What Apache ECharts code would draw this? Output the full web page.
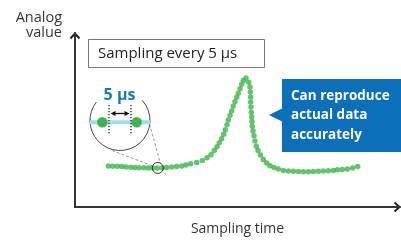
<!DOCTYPE html>
<html>
<head>
<meta charset="utf-8">
<script src="https://cdn.jsdelivr.net/npm/echarts@6/dist/echarts.min.js"></script>
<style>
  html, body { margin: 0; padding: 0; background: #fff; }
  #chart { width: 401px; height: 241px; }
</style>
</head>
<body>
<div id="chart"></div>
<script>
// sample points (time, analog value) in axis units
var sampleTimes = [33.3, 37.7, 42.3, 46.7, 51, 55.7, 60, 64.3, 69, 73.3, 77.7, 82.3, 87.3, 91.7, 96.7, 101.7, 106.7, 111, 115.7,
  121.7, 127.3, 132, 136, 139.3, 142, 144.3, 146.7, 148.7, 150.3, 152, 153.3, 155, 156.7, 158.2, 160, 161.7, 163.3, 165, 166.7, 168.3,
  171, 173.7, 175, 175.3, 175.7, 175.7, 176, 176.3, 176.7, 177, 177.3, 178, 179, 180, 181.3, 183, 185.5, 188.3, 191.7, 195, 199,
  203.3, 208.3, 213.3, 218.3, 223.3, 228.3, 233.3, 238.3, 243.3, 248.3, 253.3, 258.3, 262.3, 267.3, 272.3, 277.7, 282.7];
var sampleValues = [43.3, 43.2, 43, 42.7, 42.4, 42.1, 41.8, 41.6, 41.4, 41.3, 41.3, 41.3, 41.5, 41.8, 42.2, 42.7, 43.4, 44.4, 45.7,
  47, 49.3, 52, 55.3, 59.7, 63.7, 68, 72.3, 77, 81.7, 87, 92, 97, 101.5, 106.5, 111.3, 116, 120.3, 125, 129.7, 133.7,
  136.3, 132, 127, 121.7, 116.3, 111, 105.7, 100.3, 95.3, 90.3, 85.3, 80.3, 75.3, 69.7, 64.3, 59.7, 55, 50.3, 46.5, 43.5, 41.7,
  40.2, 38.7, 38, 37.7, 37.6, 37.3, 37.3, 37.6, 37.7, 38, 38.3, 38.7, 39.3, 39.7, 40.3, 41.3, 42.7];
var zoomIndex = 11; // the sample shown in the magnifier
var xMax = 325, yMax = 184;

var FONT = '"Open Sans", "Noto Sans", sans-serif';
var GREEN = '#3cb44a';
var BLUE = '#0b6fba';

var points = sampleTimes.map(function(t, i) { return [t, sampleValues[i]]; });

var chart = echarts.init(document.getElementById('chart'));

chart.setOption({
  animation: false,
  grid: { left: 75, right: 1, top: 33, bottom: 24 },
  xAxis: {
    type: 'value', min: 0, max: xMax,
    name: 'Sampling time', nameLocation: 'middle', nameGap: 15,
    nameTextStyle: { fontSize: 14, color: '#333', fontFamily: FONT },
    axisLine: { show: true, lineStyle: { color: '#333', width: 2 } },
    axisTick: { show: false }, axisLabel: { show: false }, splitLine: { show: false }
  },
  yAxis: {
    type: 'value', min: 0, max: yMax,
    axisLine: { show: true, lineStyle: { color: '#333', width: 2 } },
    axisTick: { show: false }, axisLabel: { show: false }, splitLine: { show: false }
  },
  series: [{
    type: 'scatter',
    data: points,
    symbol: 'circle',
    symbolSize: 5.5,
    itemStyle: { color: GREEN },
    z: 5
  }]
});

var p = chart.convertToPixel({ gridIndex: 0 }, points[zoomIndex]);
var yTip = chart.convertToPixel({ gridIndex: 0 }, [0, yMax]);
var xTip = chart.convertToPixel({ gridIndex: 0 }, [xMax, 0]);

chart.setOption({
  graphic: [
    // open arrow heads at the axis ends
    { type: 'polyline', shape: { points: [[yTip[0] - 4.5, yTip[1] + 5.5], [yTip[0], yTip[1] + 0.5], [yTip[0] + 4.5, yTip[1] + 5.5]] }, style: { stroke: '#222', lineWidth: 2, fill: 'none' } },
    { type: 'polyline', shape: { points: [[xTip[0] - 5.5, xTip[1] - 4.5], [xTip[0] - 0.5, xTip[1]], [xTip[0] - 5.5, xTip[1] + 4.5]] }, style: { stroke: '#222', lineWidth: 2, fill: 'none' } },
    // y axis label
    { type: 'text', x: 62, y: 18, style: { text: 'Analog', font: '14.5px ' + FONT, fill: '#333', align: 'right', verticalAlign: 'middle' } },
    { type: 'text', x: 62, y: 33, style: { text: 'value', font: '14.5px ' + FONT, fill: '#333', align: 'right', verticalAlign: 'middle' } },
    // sampling box
    { type: 'rect', shape: { x: 88.5, y: 39.5, width: 176, height: 28 }, style: { fill: '#fff', stroke: '#777', lineWidth: 1 } },
    { type: 'text', x: 98, y: 53.5, style: { text: 'Sampling every 5 µs', font: '15px ' + FONT, fill: '#222', verticalAlign: 'middle' } },
    // callout
    { type: 'rect', shape: { x: 282, y: 79, width: 119, height: 73 }, style: { fill: BLUE } },
    { type: 'polygon', shape: { points: [[269, 115], [282, 108.5], [282, 121.5]] }, style: { fill: BLUE } },
    { type: 'text', x: 291, y: 96, style: { text: 'Can reproduce', font: 'bold 13.5px ' + FONT, fill: '#fff', verticalAlign: 'middle' } },
    { type: 'text', x: 291, y: 115.5, style: { text: 'actual data', font: 'bold 13.5px ' + FONT, fill: '#fff', verticalAlign: 'middle' } },
    { type: 'text', x: 291, y: 135, style: { text: 'accurately', font: 'bold 13.5px ' + FONT, fill: '#fff', verticalAlign: 'middle' } },
    // dashed leaders from magnifier to sample
    { type: 'line', shape: { x1: 112, y1: 150.5, x2: p[0] - 4.5, y2: p[1] - 2 }, style: { stroke: '#999', lineWidth: 1, lineDash: [3, 2] } },
    { type: 'line', shape: { x1: 149.5, y1: 124, x2: p[0] + 3, y2: p[1] - 5 }, style: { stroke: '#999', lineWidth: 1, lineDash: [3, 2] } },
    { type: 'circle', shape: { cx: p[0] + 0.5, cy: p[1], r: 5.5 }, style: { fill: 'none', stroke: '#333', lineWidth: 1 }, z: 10 },
    // magnifier
    { type: 'circle', shape: { cx: 120, cy: 120.5, r: 30 }, style: { fill: '#fff' } },
    { type: 'arc', shape: { cx: 120, cy: 120.5, r: 30, startAngle: -42 * Math.PI / 180, endAngle: 218 * Math.PI / 180, clockwise: true }, style: { stroke: '#444', lineWidth: 1, fill: 'none' } },
    { type: 'rect', shape: { x: 90, y: 120.3, width: 60, height: 4 }, style: { fill: '#a3daf5' } },
    { type: 'circle', shape: { cx: 102.3, cy: 122.3, r: 5.2 }, style: { fill: GREEN } },
    { type: 'circle', shape: { cx: 136.7, cy: 122.3, r: 5.2 }, style: { fill: GREEN } },
    { type: 'line', shape: { x1: 109, y1: 105, x2: 109, y2: 134 }, style: { stroke: '#222', lineWidth: 1.3, lineDash: [1.3, 1.7] } },
    { type: 'line', shape: { x1: 131, y1: 105, x2: 131, y2: 134 }, style: { stroke: '#222', lineWidth: 1.3, lineDash: [1.3, 1.7] } },
    { type: 'line', shape: { x1: 113, y1: 113.5, x2: 127, y2: 113.5 }, style: { stroke: '#111', lineWidth: 1.3 } },
    { type: 'polygon', shape: { points: [[110.5, 113.5], [115.5, 111], [115.5, 116]] }, style: { fill: '#111' } },
    { type: 'polygon', shape: { points: [[129.5, 113.5], [124.5, 111], [124.5, 116]] }, style: { fill: '#111' } },
    { type: 'text', x: 119.5, y: 95, style: { text: '5 µs', font: 'bold 16px ' + FONT, fill: '#1a78c2', align: 'center', verticalAlign: 'middle' } }
  ]
});

window.addEventListener('resize', function() { chart.resize(); });
</script>
</body>
</html>
